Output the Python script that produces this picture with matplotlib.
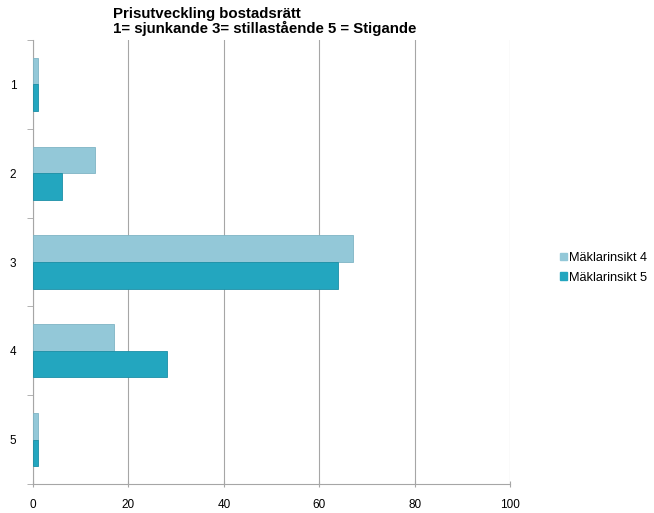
import numpy as np
import matplotlib.pyplot as plt
from matplotlib.patches import Patch

categories = ["1", "2", "3", "4", "5"]
maklar4 = [1, 13, 67, 17, 1]
maklar5 = [1, 6, 64, 28, 1]
series_names = ["Mäklarinsikt 4", "Mäklarinsikt 5"]
xticks = [0, 20, 40, 60, 80, 100]

col4 = "#93c8d8"
col5 = "#23a6bf"
gray = "#a6a6a6"

plt.rcParams['font.family'] = ['Liberation Sans', 'DejaVu Sans']

fig = plt.figure(figsize=(6.54, 5.13), dpi=100)
ax = fig.add_axes([0.0505, 0.0565, 0.7294, 0.8655])

y = np.arange(len(categories))
h = 0.3
ax.barh(y - h / 2, maklar4, height=h, color=col4, edgecolor="#7fb4c4", linewidth=0.6, zorder=3)
ax.barh(y + h / 2, maklar5, height=h, color=col5, edgecolor="#1b8fa6", linewidth=0.6, zorder=3)

ax.set_xlim(0, 100)
ax.set_ylim(len(categories) - 0.5, -0.5)
ax.set_xticks(xticks)
ax.set_xticklabels([str(t) for t in xticks], fontsize=8.5)
ax.set_yticks(y)
ax.set_yticklabels(categories, fontsize=8.5)
ax.tick_params(axis='y', length=0, pad=12)
ax.set_yticks(np.arange(-0.5, len(categories), 1), minor=True)
ax.tick_params(axis='y', which='minor', length=4, color=gray, direction='out')
ax.tick_params(axis='x', length=5, color=gray, direction='inout', pad=8)

ax.grid(axis='x', color=gray, linewidth=0.8, zorder=0)
for s in ['top', 'right']:
    ax.spines[s].set_visible(False)
for s in ['left', 'bottom']:
    ax.spines[s].set_color(gray)
    ax.spines[s].set_linewidth(0.8)

fig.text(113 / 654, 1 - 7 / 513,
         "Prisutveckling bostadsrätt\n1= sjunkande 3= stillastående 5 = Stigande",
         fontsize=10.8, fontweight='bold', va='top', ha='left', linespacing=1.0)

handles = [Patch(facecolor=col4, edgecolor=col4), Patch(facecolor=col5, edgecolor=col5)]
fig.legend(handles, series_names, loc='center left', bbox_to_anchor=(555 / 654, 1 - 268 / 513),
           frameon=False, fontsize=9.2, handlelength=0.55, handleheight=0.55, handletextpad=0.15,
           labelspacing=0.6, borderaxespad=0)

fig.savefig("out.png", dpi=100)
